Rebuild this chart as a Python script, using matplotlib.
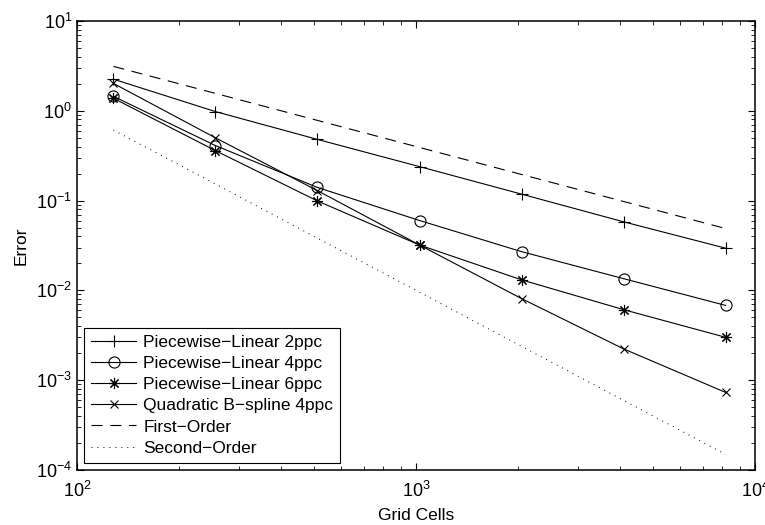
import matplotlib
matplotlib.use('Agg')
import matplotlib.pyplot as plt
from matplotlib.ticker import LogLocator

plt.rcParams['font.family'] = ['Liberation Sans', 'DejaVu Sans']
plt.rcParams['mathtext.default'] = 'regular'
plt.rcParams['lines.scale_dashes'] = False

# grid sizes and measured errors
cells = [128, 256, 512, 1024, 2048, 4096, 8192]
pl_2ppc = [2.25, 0.98, 0.48, 0.239, 0.118, 0.058, 0.0295]
pl_4ppc = [1.45, 0.41, 0.14, 0.060, 0.027, 0.0135, 0.0068]
pl_6ppc = [1.38, 0.36, 0.099, 0.032, 0.0131, 0.0061, 0.0030]
qb_4ppc = [2.02, 0.50, 0.129, 0.032, 0.0081, 0.00223, 0.00073]

# reference slopes
first_order = [3.125, 1.5625, 0.78125, 0.3906, 0.1953, 0.0977, 0.0488]
second_order = [0.61, 0.153, 0.0381, 0.00954, 0.00238, 0.000596, 0.000149]

labels = ['Piecewise\u2212Linear 2ppc', 'Piecewise\u2212Linear 4ppc',
          'Piecewise\u2212Linear 6ppc', 'Quadratic B\u2212spline 4ppc',
          'First\u2212Order', 'Second\u2212Order']


def make_plot():
	fig = plt.figure(figsize=(7.65, 5.25), dpi=100)
	ax = fig.add_axes([0.1007, 0.1048, 0.8863, 0.8552])

	lw = 0.8
	ax.plot(cells, pl_2ppc, color='black', lw=lw, marker='+', ms=8, mew=0.8, label=labels[0])
	ax.plot(cells, pl_4ppc, color='black', lw=lw, marker='o', ms=8, mfc='none', mew=0.8, label=labels[1])
	ax.plot(cells, pl_6ppc, color='black', lw=lw, marker=(8, 2, 0), ms=8, mew=0.8, label=labels[2])
	ax.plot(cells, qb_4ppc, color='black', lw=lw, marker='x', ms=6, mew=0.8, label=labels[3])
	ax.plot(cells, first_order, color='black', lw=lw, linestyle=(0, (8, 5.5)), label=labels[4])
	ax.plot(cells, second_order, color='black', lw=0.7, linestyle=(0, (0.7, 3.6)), label=labels[5])

	ax.set_xscale('log')
	ax.set_yscale('log')
	ax.set_xlim(1e2, 1e4)
	ax.set_ylim(1e-4, 1e1)
	ax.xaxis.set_minor_locator(LogLocator(base=10, subs=range(2, 10)))
	ax.yaxis.set_minor_locator(LogLocator(base=10, subs=range(2, 10)))

	ax.tick_params(which='both', direction='in', top=True, right=True, labelsize=13)
	ax.tick_params(which='major', length=5, width=0.8)
	ax.tick_params(which='minor', length=3, width=0.6)
	ax.tick_params(axis='x', pad=8)
	for s in ax.spines.values():
		s.set_linewidth(1.1)

	ax.set_xlabel('Grid Cells', fontsize=12.5, labelpad=5)
	ax.set_ylabel('Error', fontsize=12.5, labelpad=5)

	leg = ax.legend(loc='lower left', fontsize=12.5, numpoints=1, fancybox=False,
	                framealpha=1, edgecolor='black', handlelength=2.6,
	                handletextpad=0.4, labelspacing=0.35, borderpad=0.4,
	                borderaxespad=0.42)
	leg.get_frame().set_linewidth(0.8)

	fig.savefig('out.png', dpi=100)


if __name__ == '__main__':
	make_plot()
